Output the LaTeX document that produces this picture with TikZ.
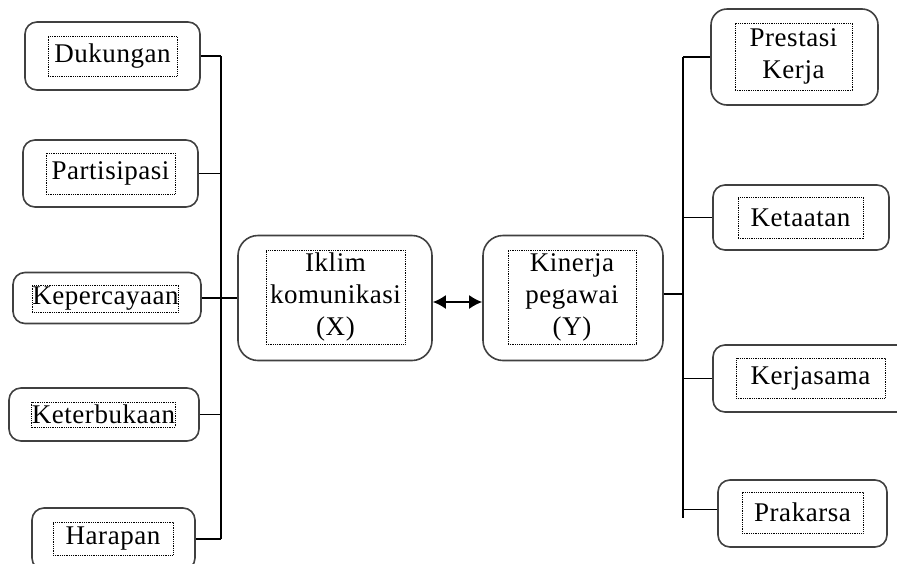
\documentclass[tikz,border=0pt]{standalone}
\usepackage{fontspec}
\setmainfont{Liberation Serif}[LetterSpace=2]
\usetikzlibrary{arrows.meta}
\tikzset{
  outerbox/.style={draw=black!75, line width=1.6pt, rounded corners=12pt, minimum width=#1, inner sep=0pt},
  bigbox/.style={draw=black!75, line width=1.6pt, rounded corners=20pt, inner sep=0pt},
  innerbox/.style={draw=black, line width=0.7pt, dash pattern=on 0.9pt off 0.9pt, inner sep=0pt, align=center,
     font=\fontsize{27}{32}\selectfont},
  conn/.style={draw=black, line width=1.4pt},
}
\begin{document}
\begin{tikzpicture}[x=1pt,y=-1pt]
\useasboundingbox (0,0) rectangle (897,563);
\clip (0,0) rectangle (897,563);
\fill[white] (0,0) rectangle (897,563);
% left outer boxes
\node[outerbox=175pt, minimum height=68pt] (dk) at (112.5,56) {};
\node[outerbox=175pt, minimum height=67pt] (pt) at (110.5,173.5) {};
\node[outerbox=188pt, minimum height=51pt] (kp) at (107,298) {};
\node[outerbox=190pt, minimum height=53pt] (kt) at (104,414.5) {};
\node[outerbox=163pt, minimum height=62pt] (hr) at (113.5,539) {};
% left inner boxes
\node[innerbox, minimum width=129pt, minimum height=40pt] (dkt) at (112.5,56) {Dukungan};
\node[innerbox, minimum width=129pt, minimum height=41pt] (ptt) at (110.5,173.5) {Partisipasi};
\node[innerbox, minimum width=143pt, minimum height=27pt] (kpt) at (105.5,298.5) {Kepercayaan};
\node[innerbox, minimum width=143pt, minimum height=25pt] (ktt) at (103.5,414.5) {Keterbukaan};
\node[innerbox, minimum width=120pt, minimum height=33pt] (hrt) at (113,538.5) {Harapan};
% centre boxes
\node[bigbox, minimum width=194pt, minimum height=125pt] (ik) at (335,298) {};
\node[innerbox, minimum width=139pt, minimum height=94pt] (ikt) at (335.5,297) {Iklim\\komunikasi\\(X)};
\node[bigbox, minimum width=180pt, minimum height=125pt] (kn) at (573,298) {};
\node[innerbox, minimum width=128pt, minimum height=94pt] (knt) at (572,297) {Kinerja\\pegawai\\(Y)};
% right boxes
\node[bigbox, rounded corners=16pt, minimum width=167pt, minimum height=96pt] (ps) at (794.5,57) {};
\node[innerbox, minimum width=117pt, minimum height=67pt] (pst) at (793.5,56.5) {Prestasi\\Kerja};
\node[outerbox=176pt, minimum height=65pt] (ke) at (801,217.5) {};
\node[innerbox, minimum width=125pt, minimum height=41pt] (ket) at (800.5,217.5) {Ketaatan};
\node[outerbox=197pt, minimum height=67pt] (kj) at (811.5,378.5) {};
\node[innerbox, minimum width=149pt, minimum height=40pt] (kjt) at (810.5,378) {Kerjasama};
\node[outerbox=169pt, minimum height=67pt] (pk) at (802.5,513.5) {};
\node[innerbox, minimum width=121pt, minimum height=41pt] (pkt) at (802.5,512.5) {Prakarsa};
% trunks
\coordinate (ltop) at (221,56);
\coordinate (lbot) at (221,539);
\coordinate (rtop) at (683,57);
\coordinate (rbot) at (683,518);
\draw[conn] (ltop) -- (lbot);
\draw[conn] (rtop) -- (rbot);
\draw[conn] (dk.east) -- (dk.east -| ltop);
\draw[conn] (pt.east) -- (pt.east -| ltop);
\draw[conn] (kp.east) -- (ik.west);
\draw[conn] (kt.east) -- (kt.east -| ltop);
\draw[conn] (hr.east) -- (hr.east -| ltop);
\draw[conn] ([yshift=4pt]kn.east) -- ([yshift=4pt]kn.east -| rtop);
\draw[conn] (ps.west) -- (ps.west -| rtop);
\draw[conn] (ke.west) -- (ke.west -| rtop);
\draw[conn] (kj.west) -- (kj.west -| rtop);
\draw[conn] ([yshift=4pt]pk.west) -- ([yshift=4pt]pk.west -| rtop);
% double arrow
\draw[conn, line width=1.8pt, {Latex[length=13pt,width=14pt]}-{Latex[length=13pt,width=14pt]}] ([yshift=-4pt]ik.east) -- ([yshift=-4pt]kn.west);
\end{tikzpicture}
\end{document}
